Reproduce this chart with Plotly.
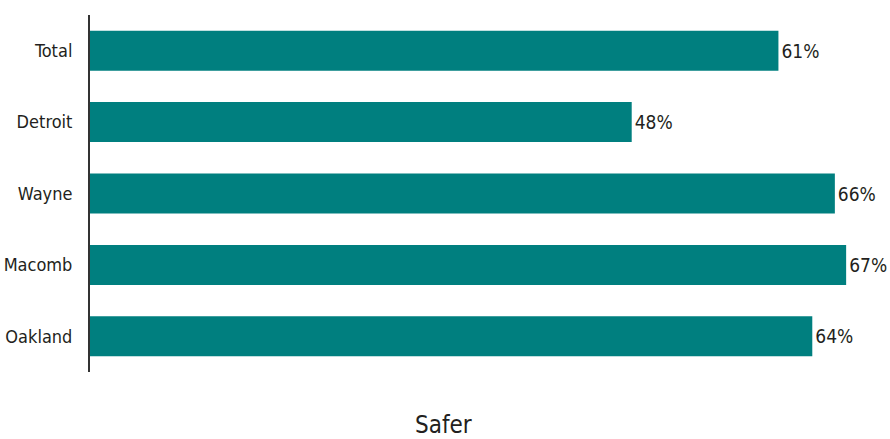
import plotly.graph_objects as go

regions = ["Total", "Detroit", "Wayne", "Macomb", "Oakland"]
safer_pct = [61, 48, 66, 67, 64]
value_labels = [f"{v}%" for v in safer_pct]

FONT = "DejaVu Sans Condensed, Liberation Sans Narrow, sans-serif"
TEXT = "#231f20"
TEAL = "#007f7f"

fig = go.Figure(
    go.Bar(
        y=regions,
        x=safer_pct,
        orientation="h",
        marker=dict(color=TEAL, line=dict(width=0)),
        text=value_labels,
        textposition="outside",
        textfont=dict(family=FONT, size=19, color=TEXT),
        cliponaxis=False,
        hoverinfo="skip",
    )
)

W, H = 890, 439
ML, MR, MT, MB = 90, 10, 15, 67

fig.update_layout(
    width=W,
    height=H,
    margin=dict(l=ML, r=MR, t=MT, b=MB, autoexpand=False),
    paper_bgcolor="white",
    plot_bgcolor="white",
    bargap=0.44,
    showlegend=False,
    font=dict(family=FONT, color=TEXT),
)

fig.update_xaxes(
    range=[0, 70],
    showgrid=False,
    zeroline=False,
    showline=False,
    showticklabels=False,
    ticks="",
    automargin=False,
)

fig.update_yaxes(
    autorange="reversed",
    showgrid=False,
    zeroline=False,
    showline=True,
    linecolor="#333333",
    linewidth=2,
    ticks="",
    ticklabelstandoff=12,
    tickfont=dict(family=FONT, size=18, color=TEXT),
    automargin=False,
)

# axis title, centered on the page width
fig.add_annotation(
    text="Safer",
    xref="paper",
    yref="paper",
    x=(443 - ML) / (W - ML - MR),
    y=-(425 - (H - MB)) / (H - MT - MB),
    xanchor="center",
    yanchor="middle",
    showarrow=False,
    font=dict(family=FONT, size=24, color=TEXT),
)

fig.write_html("out.html")
